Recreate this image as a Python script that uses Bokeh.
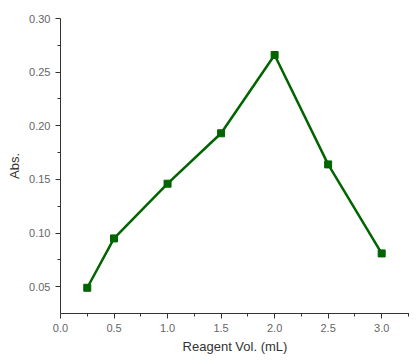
from bokeh.plotting import figure
from bokeh.models import FixedTicker, PrintfTickFormatter, Range1d
from bokeh.embed import file_html
from bokeh.resources import INLINE

vol = [0.25, 0.5, 1.0, 1.5, 2.0, 2.5, 3.0]
absb = [0.049, 0.095, 0.146, 0.193, 0.266, 0.164, 0.081]
x_ticks = [0.0, 0.5, 1.0, 1.5, 2.0, 2.5, 3.0]
x_minor = [0.25, 0.75, 1.25, 1.75, 2.25, 2.75, 3.25]
y_ticks = [0.05, 0.10, 0.15, 0.20, 0.25, 0.30]
y_minor = [0.075, 0.125, 0.175, 0.225, 0.275]

p = figure(width=409, height=356, output_backend="svg", toolbar_location=None,
           x_range=Range1d(0, 3.26), y_range=Range1d(0.025, 0.30),
           min_border_left=60, min_border_top=18, min_border_bottom=38, min_border_right=0)
p.outline_line_color = None
p.grid.visible = False
p.background_fill_color = "white"
p.border_fill_color = "white"

green = "#006400"
p.line(vol, absb, line_color=green, line_width=2.5)
p.scatter(vol, absb, marker="square", size=7, fill_color=green, line_color=green)

for ax, ticks, minor, fmt, label in [(p.xaxis[0], x_ticks, x_minor, "%.1f", "Reagent Vol. (mL)"),
                                      (p.yaxis[0], y_ticks, y_minor, "%.2f", "Abs.")]:
    ax.ticker = FixedTicker(ticks=ticks, minor_ticks=minor)
    ax.formatter = PrintfTickFormatter(format=fmt)
    ax.axis_label = label
    ax.axis_label_text_font = "Liberation Sans"
    ax.axis_label_text_font_style = "normal"
    ax.axis_label_text_font_size = "13px"
    ax.axis_label_text_color = "#333333"
    ax.major_label_text_font = "Liberation Sans"
    ax.major_label_text_font_size = "11px"
    ax.major_label_text_color = "#666666"
    ax.axis_line_color = "#333333"
    ax.major_tick_line_color = "#333333"
    ax.minor_tick_line_color = "#333333"
    ax.major_tick_out = 5
    ax.major_tick_in = 0
    ax.minor_tick_out = 3
    ax.minor_tick_in = 0
    ax.major_label_standoff = 5

p.xaxis[0].axis_label_standoff = 4
p.yaxis[0].axis_label_standoff = 4

open("out.html", "w").write(file_html(p, INLINE))
